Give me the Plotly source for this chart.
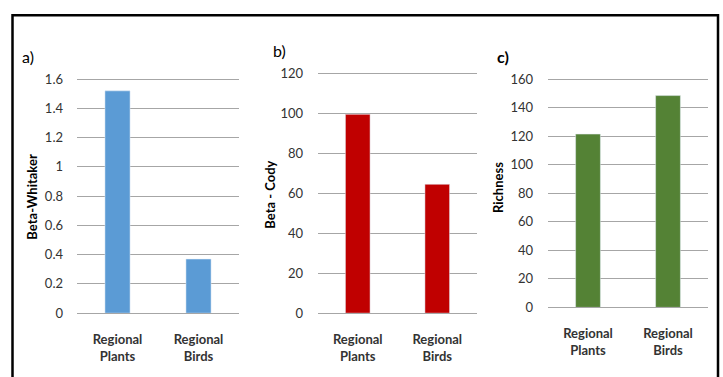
import plotly.graph_objects as go

# Data
categories = ["<b>Regional<br>Plants</b>", "<b>Regional<br>Birds</b>"]
beta_whitaker = [1.52, 0.37]
beta_cody = [99.5, 64.5]
richness = [121.5, 148.5]

W, H = 723, 377
FONT = "Lato"
TICK_COLOR = "#333333"
GRID = "#a6a6a6"


def px_x(v):
    return v / W


def px_y(v):
    return 1 - v / H


panels = [
    dict(vals=beta_whitaker, color="#5B9BD5", xdom=(77, 239), ydom=(76, 319),
         top=1.6, dtick=0.2, title="Beta-Whitaker", title_x=32, title_y=198,
         label="a)", label_x=20, label_y=52, label_bold=False, standoff=13),
    dict(vals=beta_cody, color="#C00000", xdom=(318, 477), ydom=(70, 319),
         top=120, dtick=20, title="Beta - Cody", title_x=270, title_y=196,
         label="b)", label_x=271, label_y=46, label_bold=False, standoff=14),
    dict(vals=richness, color="#548235", xdom=(548, 708), ydom=(76, 313),
         top=160, dtick=20, title="Richness", title_x=498, title_y=189,
         label="c)", label_x=495, label_y=52, label_bold=True, standoff=14),
]

fig = go.Figure()
annotations = []
layout = {}
for i, p in enumerate(panels, start=1):
    xa = "x" if i == 1 else f"x{i}"
    ya = "y" if i == 1 else f"y{i}"
    fig.add_trace(go.Bar(x=categories, y=p["vals"], marker_color=p["color"],
                         width=0.31, xaxis=xa, yaxis=ya, showlegend=False))
    y0, y1 = p["ydom"]
    # pad the top by two pixels so the top gridline is drawn
    pad = 2 * p["top"] / (y1 - y0)
    layout[f"xaxis{'' if i == 1 else i}"] = dict(
        domain=[px_x(p["xdom"][0]), px_x(p["xdom"][1])], anchor=ya,
        showgrid=False, showline=True, linecolor=GRID, linewidth=1,
        ticks="", ticklabelstandoff=14,
        tickfont=dict(family=FONT, size=13, color=TICK_COLOR),
        fixedrange=True,
    )
    layout[f"yaxis{'' if i == 1 else i}"] = dict(
        domain=[px_y(y1), px_y(y0 - 2)], anchor=xa,
        range=[0, p["top"] + pad], tick0=0, dtick=p["dtick"],
        showgrid=True, gridcolor=GRID, gridwidth=1, zeroline=False,
        showline=False, ticks="", ticklabelstandoff=p["standoff"],
        tickfont=dict(family=FONT, size=13, color=TICK_COLOR),
        fixedrange=True,
    )
    annotations.append(dict(
        text=f"<b>{p['title']}</b>", x=px_x(p["title_x"]), y=px_y(p["title_y"]),
        xref="paper", yref="paper", textangle=-90, showarrow=False,
        font=dict(family=FONT, size=13, color="#000000"),
        xanchor="center", yanchor="middle",
    ))
    lbl = f"<b>{p['label']}</b>" if p["label_bold"] else p["label"]
    annotations.append(dict(
        text=lbl, x=px_x(p["label_x"]), y=px_y(p["label_y"]),
        xref="paper", yref="paper", showarrow=False,
        font=dict(family=FONT, size=16, color="#000000"),
        xanchor="left", yanchor="middle",
    ))

# Outer frame around the three panels
shapes = [dict(type="rect", xref="paper", yref="paper",
               x0=px_x(12.5), x1=px_x(718), y0=px_y(390), y1=px_y(9.5),
               line=dict(color="#000000", width=2.5), fillcolor="rgba(0,0,0,0)")]

fig.update_layout(
    width=W, height=H, margin=dict(l=0, r=0, t=0, b=0),
    paper_bgcolor="white", plot_bgcolor="white",
    annotations=annotations, shapes=shapes, **layout,
)

fig.write_html("out.html")
